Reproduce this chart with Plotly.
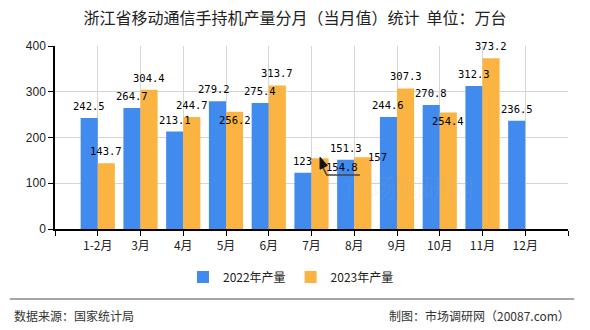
import plotly.graph_objects as go

categories = ["1-2月", "3月", "4月", "5月", "6月", "7月", "8月", "9月", "10月", "11月", "12月"]
values_2022 = [242.5, 264.7, 213.1, 279.2, 275.4, 123, 151.3, 244.6, 270.8, 312.3, 236.5]
values_2023 = [143.7, 304.4, 244.7, 256.2, 313.7, 154.8, 157, 307.3, 254.4, 373.2, None]
series_names = ["2022年产量", "2023年产量"]
y_ticks = [0, 100, 200, 300, 400]

BLUE = "#418bef"
ORANGE = "#fbb341"

# label pixel offsets (xshift, yshift) relative to bar top centre
default_off = (0, 12)
off_2022 = {3: (-3, 12)}
off_2023 = {3: (0, -8), 5: (22, -9), 6: (15, 0), 8: (0, -8)}

xs = list(range(len(categories)))

fig = go.Figure()
fig.add_trace(go.Bar(x=xs, y=values_2022, name=series_names[0], marker_color=BLUE,
                     marker_line_width=0, offsetgroup="a"))
fig.add_trace(go.Bar(x=xs, y=values_2023, name=series_names[1], marker_color=ORANGE,
                     marker_line_width=0, offsetgroup="b"))

annotations = []
label_font = dict(family="DejaVu Sans Mono, monospace", size=10.5, color="#000")
for series, offs, dx in ((values_2022, off_2022, -0.2), (values_2023, off_2023, 0.2)):
    for i, v in enumerate(series):
        if v is None:
            continue
        xsft, ysft = offs.get(i, default_off)
        txt = ("%g" % v)
        annotations.append(dict(x=i + dx, y=v, xref="x", yref="y", text=txt, showarrow=False,
                                xshift=xsft, yshift=ysft, font=label_font))

# watermark
annotations.append(dict(x=0.82, y=0.12, xref="paper", yref="paper", text="市场调研网", showarrow=False,
                        font=dict(family="Noto Sans CJK SC", size=26, color="rgba(180,180,180,0.10)")))

# footer
foot_font = dict(family="Noto Sans CJK SC, sans-serif", size=12, color="#333")
annotations.append(dict(x=12, y=316, xref="x domain", yref="paper", text="数据来源：国家统计局",
                        showarrow=False, visible=False))
annotations.pop()
annotations.append(dict(x=-0.084, y=-0.47, xref="paper", yref="paper", text="数据来源：国家统计局",
                        showarrow=False, xanchor="left", yanchor="middle", font=foot_font))
annotations.append(dict(x=1.008, y=-0.47, xref="paper", yref="paper", text="制图：市场调研网（20087.com）",
                        showarrow=False, xanchor="right", yanchor="middle", font=foot_font))

shapes = [dict(type="line", xref="paper", yref="paper", x0=-0.088, x1=1.012, y0=-0.383, y1=-0.383,
               line=dict(color="#888", width=1.5))]

# dragged-label leader line for 7月 2023 label
i7 = 5
v7 = values_2023[i7]
bx = i7 + 0.2
shapes.append(dict(type="path", xref="x", yref="y",
                   path="M %f,%f L %f,%f L %f,%f" % (bx + 0.02, v7 - 12, bx + 0.16, v7 - 37, bx + 0.93, v7 - 37),
                   line=dict(color="#444", width=1.5)))
# cursor arrow
shapes.append(dict(type="path", xref="x", yref="y", fillcolor="#111",
                   path="M %f,%f L %f,%f L %f,%f Z" % (bx + 0.0, v7 + 2, bx + 0.0, v7 - 24, bx + 0.17, v7 - 16),
                   line=dict(color="#111", width=1)))

fig.update_layout(
    width=590, height=330,
    margin=dict(l=55, r=22, t=46, b=101),
    paper_bgcolor="white", plot_bgcolor="white",
    barmode="group", bargap=0.2, bargroupgap=0,
    title=dict(text="浙江省移动通信手持机产量分月（当月值）统计  单位：万台", x=0.5, xanchor="center",
               y=0.945, yanchor="middle",
               font=dict(family="Noto Sans CJK SC, sans-serif", size=16, color="#222")),
    xaxis=dict(range=[-1, len(categories)], tickmode="array",
               tickvals=list(range(-1, len(categories) + 1)),
               ticktext=[""] + categories + [""],
               showgrid=True, gridcolor="#d6d6d6", gridwidth=1,
               showline=True, linecolor="#000", linewidth=1.5,
               ticks="outside", ticklen=5, tickcolor="#000",
               tickfont=dict(family="Noto Sans CJK SC, sans-serif", size=12, color="#222"),
               zeroline=False, fixedrange=True),
    yaxis=dict(range=[0, 400], tickvals=y_ticks,
               showgrid=True, gridcolor="#d6d6d6", gridwidth=1,
               showline=True, linecolor="#000", linewidth=1.5,
               ticks="outside", ticklen=5, tickcolor="#000",
               tickfont=dict(family="Liberation Sans, sans-serif", size=12, color="#222"),
               zeroline=False, fixedrange=True),
    legend=dict(orientation="h", x=0.46, xanchor="center", y=-0.262, yanchor="middle",
                font=dict(family="Noto Sans CJK SC, sans-serif", size=12, color="#222"),
                itemwidth=30),
    annotations=annotations,
    shapes=shapes,
    showlegend=True,
)

fig.write_html("out.html")
